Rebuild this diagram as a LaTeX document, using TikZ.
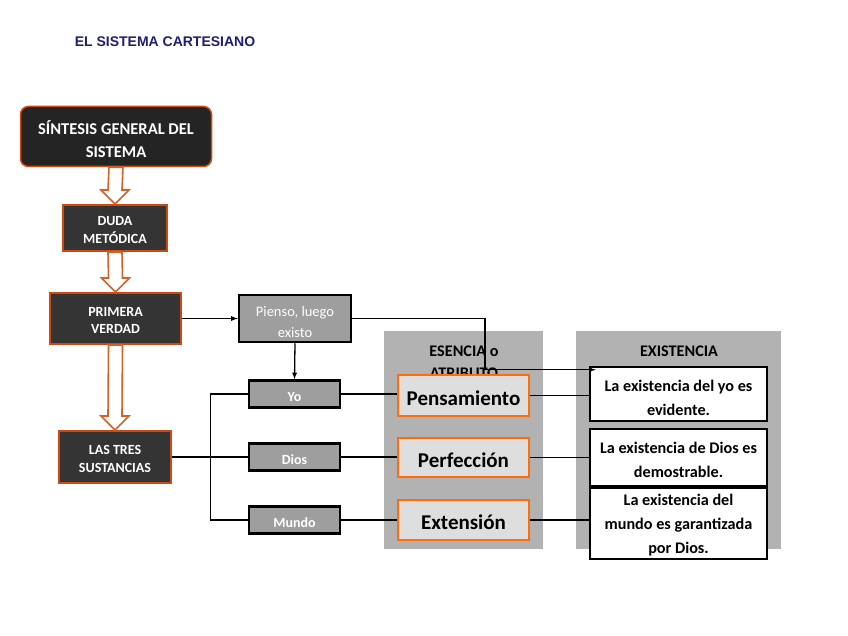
\documentclass[tikz,border=0pt]{standalone}
\usepackage{fontspec}
\setmainfont{Carlito}
\newfontfamily\titlefont{Liberation Sans}
\usetikzlibrary{calc}
\usetikzlibrary{arrows}
\definecolor{navytitle}{RGB}{30,30,120}
\definecolor{darkfill}{RGB}{36,36,36}
\definecolor{midfill}{RGB}{52,52,52}
\definecolor{redorange}{RGB}{206,74,18}
\definecolor{arroworange}{RGB}{214,96,42}
\definecolor{boxgray}{RGB}{158,158,158}
\definecolor{panelgray}{RGB}{178,178,178}
\definecolor{lightfill}{RGB}{222,222,222}
\definecolor{attrorange}{RGB}{255,108,10}
% hollow arrow between two stacked boxes
\newcommand{\hollowarrow}[2]{%
  \draw[bigarr] ($(#1.south)+(-7,0)$) -- ($(#2.north)+(-7,-14)$) -- ($(#2.north)+(-14,-14)$)
    -- (#2.north) -- ($(#2.north)+(14,-14)$) -- ($(#2.north)+(7,-14)$) -- ($(#1.south)+(7,0)$) -- cycle;}
% invisible strut on a first line, lowers the text a little
\newcommand{\strutdn}[1]{\rule{0pt}{#1}}
\begin{document}
\begin{tikzpicture}[x=1pt,y=-1pt,
  darkbox/.style={draw=redorange,line width=2pt,fill=midfill,text=white,align=center,inner sep=0pt,
    font=\bfseries\fontsize{14}{17.5}\selectfont},
  graybox/.style={draw=black,line width=2.5pt,fill=boxgray,text=white,align=center,inner sep=0pt},
  subst/.style={graybox,minimum width=91pt,minimum height=27pt,text height=15pt,text depth=0pt,
    font=\bfseries\fontsize{14}{16}\selectfont},
  attrbox/.style={draw=attrorange,line width=2.8pt,fill=lightfill,inner sep=0pt,
    minimum width=131pt,text height=19pt,text depth=0pt,font=\bfseries\fontsize{21}{24}\selectfont},
  exbox/.style={draw=black,line width=2.5pt,fill=white,align=center,inner sep=0pt,
    minimum width=177pt,font=\bfseries\fontsize{16.2}{24}\selectfont},
  conn/.style={line width=1.3pt},
  bigarr/.style={draw=arroworange,line width=1.6pt,fill=white,line join=miter}]
	\useasboundingbox (0,0) rectangle (848,636);
	\node[text=navytitle,font=\titlefont\bfseries\fontsize{14}{16}\selectfont] (title) at (165,42) {EL SISTEMA CARTESIANO};
	% left column
	\node[darkbox,draw=redorange,line width=1.5pt,fill=darkfill,rounded corners=8pt,minimum width=191pt,minimum height=60pt,
	  font=\bfseries\fontsize{16.5}{23}\selectfont] (sintesis) at (116,136.5) {\strutdn{20pt}SÍNTESIS GENERAL DEL\\SISTEMA};
	\node[darkbox,minimum width=104pt,minimum height=46pt] (duda) at (115,228) {\strutdn{13pt}DUDA\\METÓDICA};
	\node[darkbox,minimum width=131pt,minimum height=51pt] (primera) at (115.5,318.5) {\strutdn{13pt}PRIMERA\\VERDAD};
	\node[darkbox,minimum width=112pt,minimum height=52pt] (tres) at (115,457) {\strutdn{13pt}LAS TRES\\SUSTANCIAS};
	\hollowarrow{sintesis}{duda}
	\hollowarrow{duda}{primera}
	\hollowarrow{primera}{tres}
	% panels
	\fill[panelgray] (384,331) rectangle (543,549);
	\fill[panelgray] (576,331) rectangle (781,549);
	\node[align=center,font=\bfseries\fontsize{16.2}{22}\selectfont] (esencia) at (464,362) {ESENCIA o\\ATRIBUTO};
	\node[font=\bfseries\fontsize{16.2}{18}\selectfont] (existencia) at (679,351) {EXISTENCIA};
	% middle
	\node[graybox,minimum width=112pt,minimum height=47pt,font=\fontsize{14.5}{21}\selectfont] (pienso) at (295,318.5) {\strutdn{18pt}Pienso, luego\\existo};
	\node[subst] (yo) at (294.5,394) {Yo};
	\node[subst] (dios) at (294.5,457) {Dios};
	\node[subst] (mundo) at (294.5,520) {Mundo};
	\node[attrbox,minimum height=41pt] (pensa) at (463.5,395.5) {Pensamiento};
	\node[attrbox,minimum height=39pt] (perfe) at (463.5,457.5) {Perfección};
	\node[attrbox,minimum height=40pt] (exten) at (463.5,520) {Extensión};
	% right
	\node[exbox,minimum height=54pt] (exyo) at (678.5,394) {\strutdn{19.5pt}La existencia del yo es\\evidente.};
	\node[exbox,minimum height=57pt] (exdios) at (678.5,457.5) {\strutdn{15.5pt}La existencia de Dios es\\demostrable.};
	\node[exbox,minimum height=71pt] (exmundo) at (678.5,523.5) {\strutdn{15.5pt}La existencia del\\mundo es garantizada\\por Dios.};
	% connectors
	\draw[conn,-latex] (primera.east) -- (pienso.west);
	\draw[conn,-latex] (pienso.south) -- (yo.north);
	\coordinate (yotip) at ($(exyo.north west)+(7,4)$);
	\draw[conn,-latex] (pienso.east) -- (485,318.5) |- (yotip);
	\draw[conn] (tres.east) -- (dios.west);
	\draw[conn] (yo.west) -- (210.5,394) |- (mundo.west);
	\draw[conn] (yo.east) -- (yo.east -| pensa.west);
	\draw[conn] (dios.east) -- (dios.east -| perfe.west);
	\draw[conn] (mundo.east) -- (mundo.east -| exten.west);
	\draw[conn] (pensa.east) -- (exyo.west |- pensa.east);
	\draw[conn] (perfe.east) -- (exdios.west |- perfe.east);
	\draw[conn] (exten.east) -- (exmundo.west |- exten.east);
\end{tikzpicture}
\end{document}
